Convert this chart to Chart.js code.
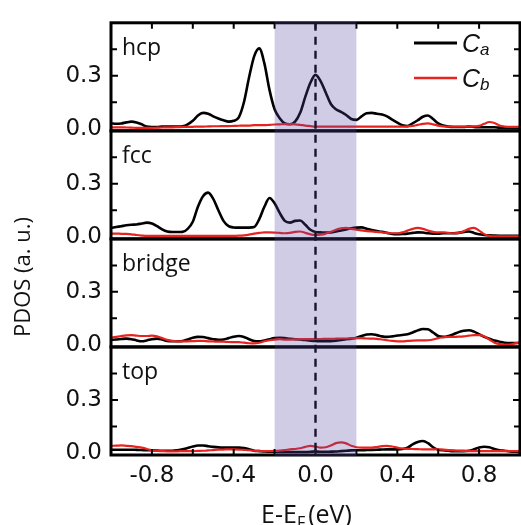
<!DOCTYPE html>
<html>
<head>
<meta charset="utf-8">
<script src="https://cdn.jsdelivr.net/npm/chart.js@4.4.0/dist/chart.umd.min.js"></script>
<style>
  html, body { margin: 0; padding: 0; background: #fff; }
  canvas { display: block; }
</style>
</head>
<body>
<canvas id="pdos" width="521" height="525" style="width:521px;height:525px"></canvas>
<script>
// energy grid, E - E_F in eV
const energy = [
  -1.000, -0.975, -0.950, -0.925, -0.900, -0.875, -0.850, -0.825, -0.800, -0.775,
  -0.750, -0.725, -0.700, -0.675, -0.650, -0.625, -0.600, -0.575, -0.550, -0.525,
  -0.500, -0.475, -0.450, -0.425, -0.400, -0.375, -0.350, -0.325, -0.300, -0.275,
  -0.250, -0.225, -0.200, -0.175, -0.150, -0.125, -0.100, -0.075, -0.050, -0.025,
   0.000,  0.025,  0.050,  0.075,  0.100,  0.125,  0.150,  0.175,  0.200,  0.225,
   0.250,  0.275,  0.300,  0.325,  0.350,  0.375,  0.400,  0.425,  0.450,  0.475,
   0.500,  0.525,  0.550,  0.575,  0.600,  0.625,  0.650,  0.675,  0.700,  0.725,
   0.750,  0.775,  0.800,  0.825,  0.850,  0.875,  0.900,  0.925,  0.950,  0.975,
   1.000
];

const hcpCa = [
  0.030, 0.028, 0.030, 0.036, 0.040, 0.035, 0.025, 0.012, 0.010, 0.010,
  0.012, 0.012, 0.012, 0.012, 0.014, 0.025, 0.045, 0.075, 0.090, 0.085,
  0.070, 0.058, 0.048, 0.040, 0.045, 0.065, 0.150, 0.290, 0.410, 0.455,
  0.370, 0.220, 0.110, 0.060, 0.030, 0.025, 0.040, 0.090, 0.180, 0.260,
  0.305, 0.270, 0.205, 0.140, 0.110, 0.095, 0.078, 0.055, 0.050, 0.070,
  0.088, 0.090, 0.085, 0.080, 0.070, 0.052, 0.035, 0.020, 0.015, 0.030,
  0.048, 0.068, 0.075, 0.055, 0.030, 0.018, 0.012, 0.010, 0.010, 0.010,
  0.012, 0.010, 0.008, 0.008, 0.008, 0.008, 0.006, 0.006, 0.005, 0.005,
  0.005
];
const hcpCb = [
  0.008, 0.008, 0.008, 0.007, 0.006, 0.005, 0.005, 0.005, 0.005, 0.006,
  0.007, 0.008, 0.008, 0.009, 0.010, 0.010, 0.011, 0.012, 0.012, 0.013,
  0.014, 0.014, 0.015, 0.015, 0.016, 0.017, 0.018, 0.018, 0.020, 0.020,
  0.020, 0.022, 0.024, 0.025, 0.026, 0.026, 0.025, 0.022, 0.018, 0.015,
  0.012, 0.012, 0.012, 0.012, 0.012, 0.012, 0.012, 0.012, 0.012, 0.012,
  0.012, 0.012, 0.012, 0.012, 0.012, 0.012, 0.012, 0.012, 0.013, 0.016,
  0.022, 0.028, 0.030, 0.025, 0.018, 0.013, 0.012, 0.012, 0.012, 0.012,
  0.012, 0.013, 0.016, 0.028, 0.038, 0.032, 0.018, 0.012, 0.010, 0.010,
  0.010
];

const fccCa = [
  0.050, 0.055, 0.060, 0.065, 0.068, 0.070, 0.075, 0.080, 0.075, 0.060,
  0.042, 0.030, 0.027, 0.027, 0.028, 0.045, 0.085, 0.170, 0.230, 0.250,
  0.215, 0.150, 0.090, 0.060, 0.053, 0.052, 0.052, 0.052, 0.055, 0.100,
  0.170, 0.220, 0.190, 0.135, 0.090, 0.080, 0.090, 0.092, 0.068, 0.040,
  0.027, 0.025, 0.024, 0.025, 0.030, 0.036, 0.042, 0.048, 0.052, 0.053,
  0.046, 0.038, 0.032, 0.028, 0.022, 0.016, 0.015, 0.016, 0.018, 0.022,
  0.025, 0.024, 0.020, 0.018, 0.018, 0.020, 0.020, 0.020, 0.022, 0.028,
  0.030, 0.022, 0.014, 0.010, 0.008, 0.007, 0.006, 0.005, 0.005, 0.005,
  0.005
];
const fccCb = [
  0.018, 0.018, 0.017, 0.016, 0.014, 0.010, 0.007, 0.005, 0.005, 0.005,
  0.005, 0.005, 0.005, 0.005, 0.005, 0.005, 0.005, 0.005, 0.005, 0.005,
  0.005, 0.005, 0.005, 0.005, 0.005, 0.006, 0.008, 0.012, 0.018, 0.022,
  0.025, 0.025, 0.024, 0.022, 0.020, 0.022, 0.028, 0.030, 0.022, 0.014,
  0.010, 0.012, 0.018, 0.028, 0.040, 0.048, 0.050, 0.045, 0.040, 0.036,
  0.032, 0.030, 0.028, 0.025, 0.022, 0.020, 0.020, 0.025, 0.035, 0.045,
  0.050, 0.045, 0.035, 0.028, 0.025, 0.025, 0.022, 0.020, 0.022, 0.032,
  0.045, 0.050, 0.035, 0.015, 0.005, 0.002, 0.002, 0.002, 0.002, 0.002,
  0.002
];

const bridgeCa = [
  0.028, 0.030, 0.033, 0.035, 0.032, 0.025, 0.020, 0.025, 0.032, 0.035,
  0.030, 0.022, 0.020, 0.020, 0.022, 0.030, 0.040, 0.045, 0.044, 0.038,
  0.032, 0.028, 0.030, 0.038, 0.046, 0.050, 0.045, 0.032, 0.022, 0.020,
  0.025, 0.032, 0.038, 0.040, 0.038, 0.034, 0.032, 0.030, 0.027, 0.024,
  0.022, 0.020, 0.020, 0.021, 0.024, 0.028, 0.032, 0.035, 0.040, 0.050,
  0.058, 0.060, 0.055, 0.048, 0.045, 0.048, 0.053, 0.056, 0.060, 0.070,
  0.082, 0.090, 0.088, 0.070, 0.050, 0.045, 0.050, 0.060, 0.072, 0.080,
  0.083, 0.075, 0.060, 0.045, 0.035, 0.024, 0.018, 0.012, 0.010, 0.010,
  0.010
];
const bridgeCb = [
  0.040, 0.045, 0.050, 0.054, 0.055, 0.052, 0.050, 0.050, 0.052, 0.048,
  0.038, 0.028, 0.022, 0.020, 0.020, 0.020, 0.021, 0.022, 0.022, 0.020,
  0.019, 0.018, 0.018, 0.016, 0.015, 0.015, 0.012, 0.009, 0.008, 0.012,
  0.020, 0.026, 0.030, 0.032, 0.030, 0.030, 0.031, 0.032, 0.032, 0.032,
  0.033, 0.033, 0.034, 0.034, 0.035, 0.036, 0.036, 0.037, 0.038, 0.038,
  0.036, 0.035, 0.034, 0.030, 0.026, 0.022, 0.020, 0.020, 0.022, 0.024,
  0.025, 0.025, 0.026, 0.030, 0.038, 0.043, 0.045, 0.045, 0.046, 0.048,
  0.052, 0.055, 0.055, 0.048, 0.030, 0.012, 0.005, 0.002, 0.002, 0.008,
  0.015
];

const topCa = [
  0.018, 0.018, 0.018, 0.018, 0.018, 0.017, 0.016, 0.015, 0.015, 0.013,
  0.012, 0.012, 0.012, 0.015, 0.020, 0.028, 0.036, 0.042, 0.042, 0.038,
  0.034, 0.031, 0.030, 0.030, 0.030, 0.030, 0.028, 0.020, 0.012, 0.010,
  0.008, 0.007, 0.006, 0.005, 0.005, 0.005, 0.005, 0.005, 0.005, 0.006,
  0.008, 0.006, 0.006, 0.007, 0.008, 0.010, 0.012, 0.014, 0.015, 0.015,
  0.016, 0.017, 0.018, 0.019, 0.020, 0.020, 0.020, 0.022, 0.030, 0.048,
  0.062, 0.067, 0.055, 0.032, 0.018, 0.015, 0.012, 0.010, 0.010, 0.010,
  0.012, 0.020, 0.030, 0.035, 0.032, 0.022, 0.015, 0.012, 0.008, 0.006,
  0.005
];
const topCb = [
  0.040, 0.041, 0.042, 0.040, 0.038, 0.034, 0.030, 0.022, 0.015, 0.011,
  0.010, 0.009, 0.009, 0.009, 0.010, 0.010, 0.010, 0.011, 0.012, 0.014,
  0.016, 0.018, 0.019, 0.020, 0.020, 0.019, 0.017, 0.015, 0.012, 0.011,
  0.010, 0.010, 0.011, 0.013, 0.016, 0.020, 0.022, 0.026, 0.034, 0.040,
  0.036, 0.030, 0.032, 0.042, 0.055, 0.060, 0.054, 0.040, 0.032, 0.030,
  0.030, 0.030, 0.033, 0.038, 0.040, 0.036, 0.030, 0.025, 0.023, 0.022,
  0.021, 0.020, 0.020, 0.020, 0.020, 0.018, 0.016, 0.014, 0.012, 0.011,
  0.010, 0.010, 0.010, 0.010, 0.010, 0.010, 0.010, 0.010, 0.010, 0.010,
  0.010
];

const xTickValues = [-0.8, -0.4, 0.0, 0.4, 0.8];
const xMinorTicks = [-0.8, -0.6, -0.4, -0.2, 0.0, 0.2, 0.4, 0.6, 0.8];
const yTickValues = [0.0, 0.3];
const yMinorTicks = [0.15, 0.3, 0.45];
const shadeRange = [-0.2, 0.2];

// top to bottom
const panels = [
  { id: 'yHcp', name: 'hcp', ca: hcpCa, cb: hcpCb, weight: 4 },
  { id: 'yFcc', name: 'fcc', ca: fccCa, cb: fccCb, weight: 3 },
  { id: 'yBridge', name: 'bridge', ca: bridgeCa, cb: bridgeCb, weight: 2 },
  { id: 'yTop', name: 'top', ca: topCa, cb: topCb, weight: 1 }
];

const RED = '#e8221e';
const INK = '#111';
const TICK_FONT = { family: 'DejaVu Sans', size: 23 };
const toPoints = vals => energy.map((e, i) => ({ x: e, y: vals[i] }));

const datasets = [];
// red first so it is painted over the black curve
panels.forEach(p => {
  datasets.push({ label: 'Cb ' + p.name, data: toPoints(p.cb), yAxisID: p.id,
    borderColor: RED, borderWidth: 2.2, pointRadius: 0, cubicInterpolationMode: 'monotone' });
});
panels.forEach(p => {
  datasets.push({ label: 'Ca ' + p.name, data: toPoints(p.ca), yAxisID: p.id,
    borderColor: '#000', borderWidth: 2.6, pointRadius: 0, cubicInterpolationMode: 'monotone' });
});

const scales = {
  x: {
    type: 'linear', position: 'bottom', min: -1, max: 1,
    grid: { display: false, drawTicks: false }, border: { display: false },
    afterBuildTicks: s => { s.ticks = xTickValues.map(v => ({ value: v })); },
    afterFit: s => { s.height = 70; },
    ticks: { padding: 7, color: INK, font: TICK_FONT,
      callback: v => v.toFixed(1), maxRotation: 0 }
  }
};
panels.forEach(p => {
  scales[p.id] = {
    type: 'linear', position: 'left', stack: 'pdos', stackWeight: 1, weight: p.weight,
    min: -0.012, max: 0.6,
    grid: { display: false, drawTicks: false }, border: { display: false },
    afterBuildTicks: s => { s.ticks = yTickValues.map(v => ({ value: v })); },
    afterFit: s => { s.width = 111; },
    ticks: { padding: 9, color: INK, font: TICK_FONT,
      callback: v => v.toFixed(1) }
  };
});

const decor = {
  id: 'decor',
  afterDatasetsDraw(chart) {
    const ctx = chart.ctx;
    const area = chart.chartArea;
    const xs = chart.scales.x;
    ctx.save();
    ctx.strokeStyle = '#000';
    ctx.lineCap = 'butt';

    panels.forEach(p => {
      const s = chart.scales[p.id];
      ctx.lineWidth = 3;
      ctx.strokeRect(area.left, s.top, area.right - area.left, s.bottom - s.top);
      ctx.lineWidth = 2;
      yMinorTicks.forEach(v => {
        const y = s.getPixelForValue(v);
        const len = v === 0.3 ? 7 : 6;
        ctx.beginPath();
        ctx.moveTo(area.left, y); ctx.lineTo(area.left + len, y);
        ctx.moveTo(area.right, y); ctx.lineTo(area.right - len, y);
        ctx.stroke();
      });
    });

    ctx.lineWidth = 2;
    xMinorTicks.forEach(v => {
      const x = xs.getPixelForValue(v);
      ctx.beginPath();
      ctx.moveTo(x, area.top); ctx.lineTo(x, area.top + 6);
      ctx.moveTo(x, area.bottom); ctx.lineTo(x, area.bottom - 6);
      ctx.stroke();
    });

    // Fermi level
    const x0 = xs.getPixelForValue(0);
    ctx.lineWidth = 2.4;
    ctx.setLineDash([8, 6]);
    ctx.beginPath();
    ctx.moveTo(x0, area.top); ctx.lineTo(x0, area.bottom);
    ctx.stroke();
    ctx.setLineDash([]);

    // shaded window over everything
    const xa = xs.getPixelForValue(shadeRange[0]);
    const xb = xs.getPixelForValue(shadeRange[1]);
    ctx.fillStyle = 'rgba(89, 72, 165, 0.28)';
    ctx.fillRect(xa, area.top - 1.5, xb - xa, area.bottom - area.top + 3);
    ctx.restore();
  },
  afterDraw(chart) {
    const ctx = chart.ctx;
    const area = chart.chartArea;
    const xs = chart.scales.x;
    ctx.save();
    ctx.fillStyle = INK;
    ctx.textBaseline = 'alphabetic';

    // panel names
    ctx.font = '23px "Open Sans"';
    ctx.textAlign = 'left';
    panels.forEach(p => {
      const s = chart.scales[p.id];
      ctx.fillText(p.name, area.left + 11, s.top + 32);
    });

    // legend
    const legend = [{ color: '#000', sub: 'a', y: 43 }, { color: RED, sub: 'b', y: 78 }];
    legend.forEach(l => {
      ctx.strokeStyle = l.color;
      ctx.lineWidth = l.color === RED ? 2.4 : 2.8;
      ctx.beginPath();
      ctx.moveTo(414, l.y); ctx.lineTo(457, l.y);
      ctx.stroke();
      ctx.fillStyle = INK;
      ctx.font = 'italic 25px "Liberation Sans"';
      ctx.fillText('C', 462, l.y + 9);
      const w = ctx.measureText('C').width;
      ctx.font = 'italic 17px "Liberation Sans"';
      ctx.fillText(l.sub, 462 + w, l.y + 12);
    });

    // y title
    ctx.fillStyle = INK;
    ctx.font = '22px "Open Sans"';
    ctx.textAlign = 'center';
    ctx.save();
    ctx.translate(30, 277);
    ctx.rotate(-Math.PI / 2);
    ctx.fillText('PDOS (a. u.)', 0, 0);
    ctx.restore();

    // x title with subscript F
    ctx.textAlign = 'left';
    const big = '25px "Open Sans"';
    const small = '16px "Open Sans"';
    ctx.font = big;
    const w1 = ctx.measureText('E-E').width;
    const w3 = ctx.measureText('(eV)').width;
    ctx.font = small;
    const w2 = ctx.measureText('F').width;
    const total = w1 + w2 + 3 + w3;
    let x = xs.getPixelForValue(0) - 9 - total / 2;
    const base = 523;
    ctx.font = big;
    ctx.fillText('E-E', x, base);
    x += w1;
    ctx.font = small;
    ctx.fillText('F', x, base + 5);
    x += w2 + 3;
    ctx.font = big;
    ctx.fillText('(eV)', x, base);
    ctx.restore();
  }
};

new Chart(document.getElementById('pdos'), {
  type: 'line',
  data: { datasets },
  options: {
    responsive: false,
    animation: false,
    layout: { padding: { left: 0, top: 15, right: 1, bottom: 0 } },
    plugins: { legend: { display: false }, tooltip: { enabled: false } },
    scales
  },
  plugins: [decor]
});
</script>
</body>
</html>
